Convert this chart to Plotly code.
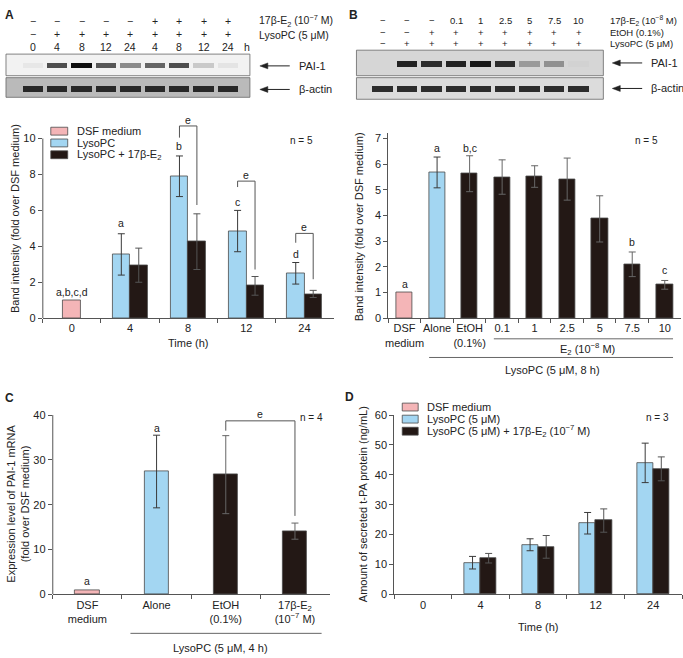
import plotly.graph_objects as go

# ---------------- DATA ----------------
# Panel A: band intensity (fold over DSF medium), n = 5
cats_A = ['0', '4', '8', '12', '24']
dsf_A = [1.0, None, None, None, None]
lyso_A = [None, 3.55, 7.9, 4.85, 2.5]
lyso_A_err = [0, 1.15, 1.13, 1.15, 0.6]
e2_A = [None, 2.95, 4.26, 1.8, 1.35]
e2_A_err = [0, 0.95, 1.55, 0.52, 0.2]
letters_A = ['a,b,c,d', 'a', 'b', 'c', 'd']

# Panel B
cats_B = ['DSF<br>medium', 'Alone', 'EtOH<br>(0.1%)', '0.1', '1', '2.5', '5', '7.5', '10']
dsf_B = [1.0, None, None, None, None, None, None, None, None]
lyso_B = [None, 5.68, None, None, None, None, None, None, None]
e2_B = [None, None, 5.63, 5.5, 5.52, 5.42, 3.87, 2.1, 1.3]
err_B = [0, 0.6, 0.7, 0.67, 0.42, 0.82, 0.9, 0.48, 0.17]
letters_B = ['a', 'a', 'b,c', '', '', '', '', 'b', 'c']

# Panel C
cats_C = ['DSF<br>medium', 'Alone', 'EtOH<br>(0.1%)', '17β-E<sub>2</sub><br>(10<sup>−7</sup> M)']
dsf_C = [1.0, None, None, None]
lyso_C = [None, 27.4, None, None]
e2_C = [None, None, 26.7, 14.1]
err_C = [0, 8.1, 8.7, 1.8]
letters_C = ['a', 'a', '', '']

# Panel D: secreted t-PA (ng/mL), n = 3
cats_D = ['0', '4', '8', '12', '24']
lyso_D = [None, 10.6, 16.6, 23.8, 44.0]
lyso_D_err = [0, 2.1, 2.0, 3.6, 6.6]
e2_D = [None, 12.1, 15.9, 24.7, 42.0]
e2_D_err = [0, 1.6, 3.8, 3.9, 4.0]

# Western blots (relative band intensity 0..1)
A_e2_row = ['−', '−', '−', '−', '−', '+', '+', '+', '+']
A_lyso_row = ['−', '+', '+', '+', '+', '+', '+', '+', '+']
A_time_row = ['0', '4', '8', '12', '24', '4', '8', '12', '24']
A_pai = [0.05, 0.72, 1.0, 0.68, 0.45, 0.62, 0.72, 0.18, 0.06]
A_actin = [0.85, 0.85, 0.85, 0.85, 0.85, 0.85, 0.85, 0.85, 0.85]

B_e2_row = ['−', '−', '−', '0.1', '1', '2.5', '5', '7.5', '10']
B_etoh_row = ['−', '−', '+', '+', '+', '+', '+', '+', '+']
B_lyso_row = ['−', '+', '+', '+', '+', '+', '+', '+', '+']
B_pai = [0.0, 0.9, 0.85, 0.9, 0.95, 0.85, 0.3, 0.35, 0.02]
B_actin = [0.85, 0.85, 0.85, 0.85, 0.85, 0.85, 0.85, 0.85, 0.85]

legend_A = ['DSF medium', 'LysoPC', 'LysoPC + 17β-E<sub>2</sub>']
legend_D = ['DSF medium', 'LysoPC (5 μM)', 'LysoPC (5 μM) + 17β-E<sub>2</sub> (10<sup>−7</sup> M)']

# ---------------- STYLE ----------------
W, H = 683, 658
FONT = 'Liberation Sans, Arial, sans-serif'
PINK = '#f4b5b7'
BLUE = '#a3d6f2'
BLACK = '#231815'
EDGE = '#4a4a4a'
ERR = '#3a3a3a'
FS = 11


def px(x):
    return x / W


def py(y):
    return 1 - y / H


fig = go.Figure()


def bars(x, y, color, xa, ya, width, offset, err=None, errcolor=ERR):
    kw = dict(x=x, y=y, xaxis=xa, yaxis=ya, width=width, offset=offset,
              marker=dict(color=color, line=dict(color=EDGE, width=0.8)),
              showlegend=False, hoverinfo='skip')
    if err is not None:
        kw['error_y'] = dict(type='data', array=err, visible=True, color=errcolor,
                             thickness=1, width=3.5)
    fig.add_trace(go.Bar(**kw))


# Panel A
bars(cats_A, dsf_A, PINK, 'x', 'y', 0.3, -0.15)
bars(cats_A, lyso_A, BLUE, 'x', 'y', 0.3, -0.3, lyso_A_err)
bars(cats_A, e2_A, BLACK, 'x', 'y', 0.3, 0.0, e2_A_err, '#555555')
# Panel B
bars(cats_B, dsf_B, PINK, 'x2', 'y2', 0.5, -0.25)
bars(cats_B, lyso_B, BLUE, 'x2', 'y2', 0.5, -0.25, err_B)
bars(cats_B, e2_B, BLACK, 'x2', 'y2', 0.5, -0.25, err_B, '#666666')
# Panel C
bars(cats_C, dsf_C, PINK, 'x3', 'y3', 0.35, -0.175)
bars(cats_C, lyso_C, BLUE, 'x3', 'y3', 0.35, -0.175, err_C)
bars(cats_C, e2_C, BLACK, 'x3', 'y3', 0.35, -0.175, err_C, '#666666')
# Panel D
bars(cats_D, lyso_D, BLUE, 'x4', 'y4', 0.28, -0.28, lyso_D_err)
bars(cats_D, e2_D, BLACK, 'x4', 'y4', 0.28, 0.0, e2_D_err, '#555555')


# Blots: bands as bars on hidden axes
def bands(vals, xa, ya, center, thick, bg):
    n = list(range(len(vals)))
    fig.add_trace(go.Bar(
        x=n, y=[thick] * len(vals), base=[center - thick / 2] * len(vals),
        xaxis=xa, yaxis=ya, width=0.84, offset=-0.42,
        marker=dict(color=vals, colorscale=[[0, bg], [1, '#0e0e0e']], cmin=0, cmax=1,
                    line=dict(width=0)),
        showlegend=False, hoverinfo='skip'))


BG_A_PAI, BG_A_ACT = '#f2f2f2', '#bababa'
BG_B_PAI, BG_B_ACT = '#d6d6d6', '#dcdcdc'
bands(A_pai, 'x5', 'y5', 0.46, 0.26, BG_A_PAI)
bands(A_actin, 'x5', 'y6', 0.45, 0.30, BG_A_ACT)
bands(B_pai, 'x6', 'y7', 0.45, 0.22, BG_B_PAI)
bands(B_actin, 'x6', 'y8', 0.48, 0.27, BG_B_ACT)

# ---------------- AXES ----------------
tickfont = dict(family=FONT, size=FS, color='#222')


def xcat(domain, cats, anchor):
    return dict(domain=domain, type='category', categoryorder='array', categoryarray=cats,
                range=[-0.5, len(cats) - 0.5], showline=True, linecolor='#555', linewidth=1,
                ticks='outside', ticklen=4, tickcolor='#555', tickson='boundaries', tickangle=0,
                tickfont=tickfont, anchor=anchor, showgrid=False, zeroline=False, fixedrange=True)


def ylin(domain, rng, dtick, anchor, showline=True):
    return dict(domain=domain, range=rng, dtick=dtick, tick0=0, showline=showline,
                linecolor='#555', linewidth=1, ticks='outside', ticklen=4, tickcolor='#555',
                tickfont=tickfont, anchor=anchor, showgrid=False, zeroline=False, fixedrange=True)


A_y0, A_k = 318, 18.3
B_y0, B_k = 318, 26.14
C_y0, C_k = 599.3, 4.567
D_y0, D_k = 599.3, 3.044
A_top, B_top, C_top, D_top = 11.4, 7.2, 41.5, 60

hid = dict(visible=False, showgrid=False, zeroline=False, fixedrange=True)

fig.update_layout(
    width=W, height=H, margin=dict(l=0, r=0, t=0, b=0),
    paper_bgcolor='white', plot_bgcolor='rgba(0,0,0,0)',
    barmode='overlay', bargap=0,
    font=dict(family=FONT, size=FS, color='#222'),
    xaxis=xcat([px(40), px(332)], cats_A, 'y'),
    yaxis=ylin([py(A_y0), py(A_y0 - A_top * A_k)], [0, A_top], 2, 'x', showline=False),
    xaxis2=xcat([px(387), px(681)], cats_B, 'y2'),
    yaxis2=ylin([py(B_y0), py(B_y0 - B_top * B_k)], [0, B_top], 1, 'x2'),
    xaxis3=xcat([px(50), px(328)], cats_C, 'y3'),
    yaxis3=ylin([py(C_y0), py(C_y0 - C_top * C_k)], [0, C_top], 10, 'x3', showline=False),
    xaxis4=xcat([px(393), px(682)], cats_D, 'y4'),
    yaxis4=ylin([py(D_y0), py(D_y0 - D_top * D_k)], [0, D_top], 10, 'x4'),
    xaxis5=dict(domain=[px(3), px(248)], range=[-1.10, 8.9], anchor='y5', **hid),
    yaxis5=dict(domain=[py(71), py(49)], range=[0, 1], anchor='x5', **hid),
    yaxis6=dict(domain=[py(93), py(73)], range=[0, 1], anchor='x5', **hid),
    xaxis6=dict(domain=[px(355), px(603)], range=[-1.085, 9.0], anchor='y7', **hid),
    yaxis7=dict(domain=[py(71), py(45)], range=[0, 1], anchor='x6', **hid),
    yaxis8=dict(domain=[py(95), py(73)], range=[0, 1], anchor='x6', **hid),
)

shapes = []
anns = []


def ann(x, y, text, xref='paper', yref='paper', size=FS, xanchor='center', yanchor='middle', **kw):
    anns.append(dict(x=x, y=y, text=text, xref=xref, yref=yref, showarrow=False,
                     font=dict(family=FONT, size=size, color=kw.pop('color', '#222')),
                     xanchor=xanchor, yanchor=yanchor, **kw))


def line(x0, y0, x1, y1, xref='paper', yref='paper', color='#555', width=1):
    shapes.append(dict(type='line', x0=x0, y0=y0, x1=x1, y1=y1, xref=xref, yref=yref,
                       line=dict(color=color, width=width)))


# manual y axis lines (A, C) so that the axis stops at the top tick
line(px(40), 0, px(40), 10, 'paper', 'y')
line(px(50), 0, px(50), 40, 'paper', 'y3')

# blot boxes
for xr, yr, bg in [('x5', 'y5', BG_A_PAI), ('x5', 'y6', BG_A_ACT),
                   ('x6', 'y7', BG_B_PAI), ('x6', 'y8', BG_B_ACT)]:
    shapes.append(dict(type='rect', xref=xr + ' domain', yref=yr + ' domain', x0=0, x1=1, y0=0, y1=1,
                       fillcolor=bg, line=dict(color='#666', width=0.8), layer='below'))

# blot headers
HA, HB = 10.5, 9.5
for i in range(9):
    ann(i, py(15.5), A_e2_row[i], 'x5', size=HA)
    ann(i, py(29), A_lyso_row[i], 'x5', size=HA)
    ann(i, py(42), A_time_row[i], 'x5', size=HA)
    ann(i, py(15), B_e2_row[i], 'x6', size=HB)
    ann(i, py(26.5), B_etoh_row[i], 'x6', size=HB)
    ann(i, py(38), B_lyso_row[i], 'x6', size=HB)
ann(px(245), py(42), 'h', size=HA)
ann(px(255), py(15.5), '17β-E<sub>2</sub> (10<sup>−7</sup> M)', size=HA, xanchor='left')
ann(px(255), py(29.5), 'LysoPC (5 μM)', size=HA, xanchor='left')
ann(px(608), py(15), '17β-E<sub>2</sub> (10<sup>−8</sup> M)', size=HB, xanchor='left')
ann(px(608), py(26.5), 'EtOH (0.1%)', size=HB, xanchor='left')
ann(px(608), py(38), 'LysoPC (5 μM)', size=HB, xanchor='left')

# blot arrows (line + filled head) and labels
for hx, yy, lab in [(258, 61, 'PAI-1'), (258, 85, 'β-actin'), (612, 58, 'PAI-1'), (612, 84, 'β-actin')]:
    line(px(hx + 5), py(yy), px(hx + 30), py(yy), color='#222', width=1)
    shapes.append(dict(type='path', xref='paper', yref='paper',
                       path='M {:.5f},{:.5f} L {:.5f},{:.5f} L {:.5f},{:.5f} Z'.format(
                           px(hx), py(yy), px(hx + 8), py(yy - 3), px(hx + 8), py(yy + 3)),
                       fillcolor='#222', line=dict(color='#222', width=0.5)))
    ann(px(hx + 37), py(yy), lab, size=FS, xanchor='left')

# panel letters
for x, y, t in [(7, 9, 'A'), (352, 9, 'B'), (7, 399, 'C'), (348, 398, 'D')]:
    ann(px(x), py(y), '<b>' + t + '</b>', size=12, xanchor='center')

# axis titles
ann(px(12), py(216), 'Band intensity (fold over DSF medium)', textangle=-90)
ann(px(186), py(343), 'Time (h)')
ann(px(357), py(225), 'Band intensity (fold over DSF medium)', textangle=-90)
ann(px(15), py(507), 'Expression level of PAI-1 mRNA<br>(fold over DSF medium)', textangle=-90)
ann(px(361), py(507), 'Amount of secreted t-PA protein (ng/mL)', textangle=-90)
ann(px(538), py(633), 'Time (h)')

# n labels
ann(px(300), py(137), 'n = 5', size=10)
ann(px(646), py(137), 'n = 5', size=10)
ann(px(310), py(419), 'n = 4', size=10)
ann(px(657), py(419), 'n = 3', size=10)

# group lines under B and C
line(px(493), py(339), px(673), py(339), color='#666')
ann(px(587), py(349), 'E<sub>2</sub> (10<sup>−8</sup> M)')
line(px(428), py(358), px(673), py(358), color='#666')
ann(px(552), py(371), 'LysoPC (5 μM, 8 h)')
line(px(128), py(639), px(320), py(639), color='#666')
ann(px(218), py(654), 'LysoPC (5 μM, 4 h)')

# significance letters
A_letter_y = [1.45, 5.32, 9.58, 6.45, 3.57]
for i, t in enumerate(letters_A):
    xo = 0 if i == 0 else -0.15
    ann(i + xo, A_letter_y[i], t, 'x', 'y', size=10.5)
B_letter_y = [1.33, 6.62, 6.62, 0, 0, 0, 0, 2.95, 1.86]
for i, t in enumerate(letters_B):
    if t:
        ann(i, B_letter_y[i], t, 'x2', 'y2', size=10.5)
C_letter_y = [2.9, 37.1]
for i, t in enumerate(letters_C):
    if t:
        ann(i, C_letter_y[i], t, 'x3', 'y3', size=10.5)


# brackets "e"
def bracket(xa, ya, xl, xr, top, lbot, rbot, ty):
    line(xl, lbot, xl, top, xa, ya)
    line(xl, top, xr, top, xa, ya)
    line(xr, top, xr, rbot, xa, ya)
    ann((xl + xr) / 2, ty, 'e', xa, ya, size=10.5)


bracket('x', 'y', 2 - 0.15, 2 + 0.15, 10.7, 10.05, 6.3, 11.05)
bracket('x', 'y', 3 - 0.15, 3 + 0.15, 7.63, 7.3, 2.71, 7.98)
bracket('x', 'y', 4 - 0.15, 4 + 0.15, 4.72, 4.2, 2.17, 5.08)
bracket('x3', 'y3', 2, 3, 38.7, 36.5, 17.5, 40.2)


# manual legends
def legend(items, colors, x0, y0, dy, bw, bh):
    for k, (t, c) in enumerate(zip(items, colors)):
        yc = y0 + k * dy
        shapes.append(dict(type='rect', xref='paper', yref='paper', x0=px(x0), x1=px(x0 + bw),
                           y0=py(yc + bh / 2), y1=py(yc - bh / 2), fillcolor=c,
                           line=dict(color=EDGE, width=0.8)))
        ann(px(x0 + bw + 7), py(yc), t, xanchor='left')


legend(legend_A, [PINK, BLUE, BLACK], 48, 127.5, 12, 17, 8)
legend(legend_D, [PINK, BLUE, BLACK], 401, 408.5, 12.3, 16, 8)

fig.update_layout(shapes=shapes, annotations=anns)
fig.write_html('out.html', config={'displayModeBar': False},
               post_script="document.body.style.margin='0';")
